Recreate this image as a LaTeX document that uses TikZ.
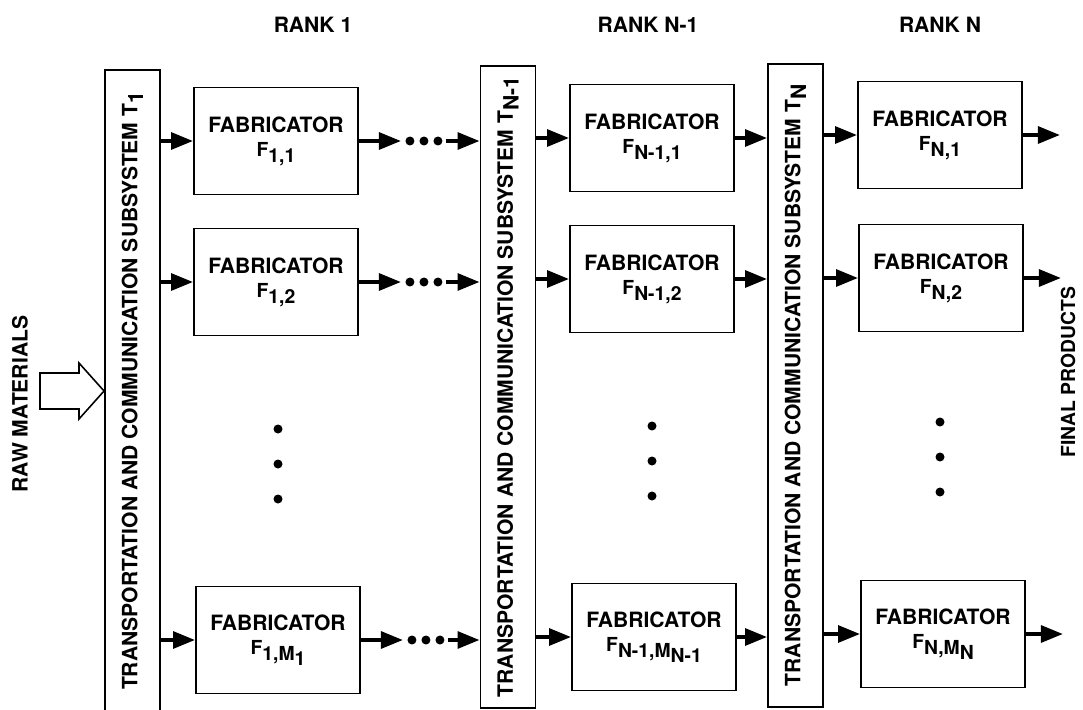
\documentclass[tikz,border=0pt]{standalone}
\usepackage{fontspec}
\setmainfont{TeX Gyre Heros}
\usepackage{tikz}
\usetikzlibrary{arrows.meta,calc,positioning}
\newcommand{\lo}[1]{\raisebox{-0.5ex}{#1}}

\begin{document}
\begin{tikzpicture}[x=0.02cm,y=-0.02cm,>={Triangle[length=12.5pt,width=9.5pt]},
  font=\fontsize{12}{14}\selectfont\bfseries,
  fab/.style={draw,line width=1.1pt,minimum width=3.28cm,minimum height=2.14cm,align=center,inner sep=0pt},
  trans/.style={draw,line width=1.1pt,rotate=90,minimum width=12.86cm,minimum height=1.1cm,inner sep=0pt},
  flow/.style={->,line width=2.2pt},
  side/.style={font=\fontsize{11}{13}\selectfont\bfseries}]
\useasboundingbox (0,0) rectangle (1083,710);
% ranks
\node (r1) at (313,25) {RANK 1};
\node (rm) at (648,25) {RANK N-1};
\node (rn) at (940,25) {RANK N};
% transportation subsystems
\node[trans] (T1) at (132.5,391) {TRANSPORTATION AND COMMUNICATION SUBSYSTEM T\lo{1}};
\node[trans] (Tm) at (508,387) {TRANSPORTATION AND COMMUNICATION SUBSYSTEM T\lo{N-1}};
\node[trans] (Tn) at (795.5,385.5) {TRANSPORTATION AND COMMUNICATION SUBSYSTEM T\lo{N}};
% fabricators
\foreach \n/\x/\y/\s in {F11/276/141/{1,1},F12/276/282/{1,2},F1m/278/640/{1,M\lo{1}},
  Fm1/652/138/{N-1,1},Fm2/652/279/{N-1,2},Fmm/654/637/{N-1,M\lo{N-1}},
  Fn1/940/135/{N,1},Fn2/941/278/{N,2},Fnm/943/634/{N,M\lo{N}}}
  \node[fab] (\n) at (\x,\y) {FABRICATOR\\{\fontsize{11}{13}\selectfont F\lo{\s}}};
% vertical dots
\foreach \x/\y in {278/464,652/461,940/457}
  \foreach \k in {-35,0,35} \fill (\x,\y+\k) circle (0.09cm);
% raw materials
\node[side,font=\fontsize{12}{14}\selectfont\bfseries,rotate=90] (raw) at (20,404) {RAW MATERIALS};
\draw[line width=0.9pt] (40,373) -- (79,373) -- (79,363) -- (T1.north) -- (79,419) -- (79,409) -- (40,409) -- cycle;
% final products
\node[side,rotate=90] (fin) at (1068,372) {FINAL PRODUCTS};
% flows
\foreach \r in {1,2,m}{
  \coordinate (a\r) at ($(F1\r.east)+(42,0)$);
  \coordinate (b\r) at ($(a\r)+(45,0)$);
  \coordinate (o\r) at ($(Fn\r.east)+(37,0)$);
  \draw[flow] (T1.south |- F1\r.west) -- (F1\r.west);
  \draw[flow] (F1\r.east) -- (a\r);
  \foreach \k in {9,23,37} \fill ($(a\r)+(\k,0)$) circle (0.09cm);
  \draw[flow] (b\r) -- (Tm.north |- b\r);
  \draw[flow] (Tm.south |- Fm\r.west) -- (Fm\r.west);
  \draw[flow] (Fm\r.east) -- (Tn.north |- Fm\r.east);
  \draw[flow] (Tn.south |- Fn\r.west) -- (Fn\r.west);
  \draw[flow] (Fn\r.east) -- (o\r);
}
\end{tikzpicture}
\end{document}
